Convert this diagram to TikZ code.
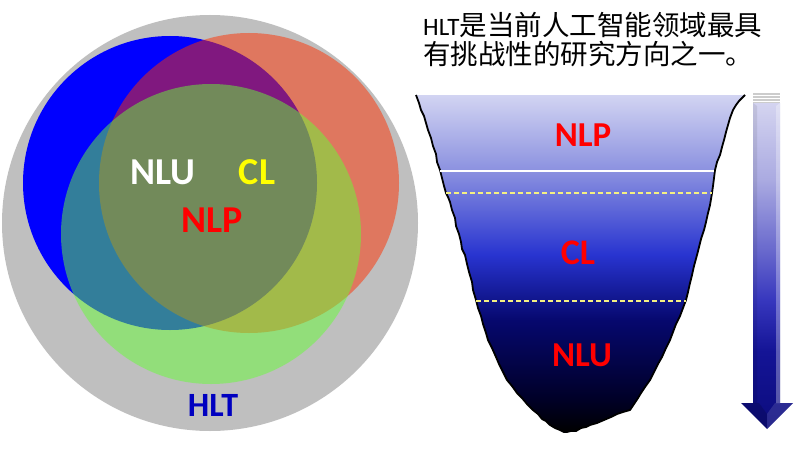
\documentclass[tikz,border=0pt]{standalone}
\usepackage{fontspec}
\setmainfont{Carlito}
\newfontfamily\cjk{Noto Sans CJK SC}
\usetikzlibrary{positioning}
\definecolor{gris}{HTML}{BFBFBF}
\definecolor{azul}{RGB}{0,0,255}
\definecolor{rojizo}{RGB}{255,48,0}
\definecolor{verdoso}{RGB}{102,253,55}
\definecolor{azulhlt}{RGB}{0,0,192}
\definecolor{amarillo}{RGB}{255,255,0}
\definecolor{rojo}{RGB}{255,0,0}
\definecolor{punteado}{RGB}{245,240,130}
% colores del embudo
\definecolor{lavanda}{RGB}{210,212,242}
\definecolor{celeste}{RGB}{140,146,224}
\definecolor{anil}{RGB}{40,52,208}
\definecolor{marino}{RGB}{6,8,110}
\definecolor{noche}{RGB}{0,0,40}
% colores de la flecha
\definecolor{flechaclara}{RGB}{212,212,240}
\definecolor{flechasuave}{RGB}{170,170,225}
\definecolor{flechamedia}{RGB}{105,105,205}
\definecolor{flechaviva}{RGB}{55,55,190}
\definecolor{flechaoscura}{RGB}{20,20,150}
\definecolor{flechafondo}{RGB}{12,12,125}
\pgfdeclareverticalshading{embudo}{100bp}{color(0bp)=(black); color(25bp)=(black);
  color(30bp)=(noche); color(41.6bp)=(marino); color(51.3bp)=(anil);
  color(63.9bp)=(celeste); color(75bp)=(lavanda); color(100bp)=(lavanda)}
\pgfdeclareverticalshading{sombraflecha}{100bp}{color(0bp)=(flechafondo); color(25bp)=(flechafondo);
  color(37bp)=(flechaoscura); color(44.8bp)=(flechaviva); color(52.5bp)=(flechamedia);
  color(63.2bp)=(flechasuave); color(75bp)=(flechaclara); color(100bp)=(flechaclara)}
\newcommand{\contorno}{(416,95) -- (419,103) -- (421,110) -- (424,116) -- (426,123) -- (428,130)
  -- (431,138) -- (433,146) -- (436,154) -- (437,162) -- (440,170) -- (442,178) -- (444,186)
  -- (446,193) -- (448,197) -- (450,202) -- (452,210) -- (455,218) -- (456,226) -- (459,234)
  -- (461,242) -- (462,249) -- (465,255) -- (467,264) -- (469,272) -- (472,282) -- (473,290)
  -- (476,300) -- (478,308) -- (481,316) -- (483,324) -- (486,333) -- (488,340) -- (492,348)
  -- (496,357) -- (499,364) -- (503,372) -- (507,380) -- (512,386) -- (517,393) -- (522,398)
  -- (527,404) -- (533,410) -- (538,414) -- (542,419) -- (546,421) -- (550,425) -- (555,428)
  -- (560,430) -- (564,432) -- (567,432) -- (571,431) -- (576,431) -- (581,428) -- (586,427)
  -- (590,425) -- (597,423) -- (604,420) -- (611,417) -- (617,414) -- (623,412) -- (630,410)
  -- (634,404) -- (638,398) -- (641,393) -- (645,387) -- (650,380) -- (654,372) -- (658,364)
  -- (662,357) -- (666,348) -- (670,340) -- (673,332) -- (676,324) -- (680,316) -- (683,308)
  -- (686,300) -- (688,292) -- (690,283) -- (692,275) -- (694,266) -- (697,255) -- (699,247)
  -- (701,239) -- (704,230) -- (706,222) -- (708,213) -- (710,205) -- (712,193) -- (713,186)
  -- (714,178) -- (715,170) -- (717,162) -- (720,155) -- (722,147) -- (724,140) -- (726,132)
  -- (728,125) -- (730,118) -- (733,110) -- (736,105) -- (739,101) -- (742,98) -- (745,95)}

\begin{document}
\begin{tikzpicture}[x=1pt,y=-1pt,
    etiqueta/.style={font=\fontsize{38}{40}\selectfont\bfseries,inner sep=0pt},
    nivel/.style={font=\fontsize{35}{38}\selectfont\bfseries,inner sep=0pt,text=rojo},
    conjunto/.style={fill opacity=0.5},
    linea/.style={font=\fontsize{27.5}{29}\selectfont,inner sep=0pt,anchor=base west},
    corte/.style={punteado,line width=1.2pt,dash pattern=on 5pt off 3pt}]
  \fill[white] (0,0) rectangle (800,452);
  \useasboundingbox (0,0) rectangle (800,452);

  % diagrama de Venn
  \fill[gris] (210,223) circle[radius=208];
  \fill[azul] (170,183) circle[radius=147];
  \fill[rojizo,conjunto] (249,183) circle[radius=150];
  \fill[verdoso,conjunto] (211,234) circle[radius=150];
  \node[etiqueta,text=white] (nlu) at (163,172) {NLU};
  \node[etiqueta,text=amarillo] (cl) at (257,172) {CL};
  \node[etiqueta,text=rojo] (nlp) at (212,220) {NLP};
  \node[etiqueta,text=azulhlt,font=\fontsize{34}{36}\selectfont\bfseries] (hlt) at (213,405) {HLT};

  % texto
  \node[linea] (linea1) at (423,36) {{\fontsize{25}{29}\selectfont HLT}\cjk 是当前人工智能领域最具};
  \node[linea] (linea2) at (423,65) {\cjk 有挑战性的研究方向之一。};

  % embudo
  \shade[shading=embudo] \contorno -- cycle;
  \draw[black,line width=1.8pt,line join=round] \contorno;
  \draw[white,line width=1.2pt] (440,171) -- (714,171);
  \draw[corte] (446,193) -- (712,193);
  \draw[corte] (476,301) -- (686,301);
  \node[nivel] (embnlp) at (583,135) {NLP};
  \node[nivel,font=\fontsize{36}{38}\selectfont\bfseries] (embcl) at (578,253) {CL};
  \node[nivel] (embnlu) at (582,355) {NLU};

  % flecha
  \shade[shading=sombraflecha] (753,103) -- (780,103) -- (780,403) -- (793,403)
    -- (767,429) -- (741,403) -- (753,403) -- cycle;
  \fill[white,opacity=0.3] (776,106) -- (780,103) -- (780,403) -- (776,403) -- cycle;
  \fill[black,opacity=0.08] (753,103) -- (757,106) -- (757,403) -- (753,403) -- cycle;
  \fill[black,opacity=0.15] (741,403) -- (767,429) -- (767,414) -- (759,403) -- cycle;
  \fill[white,opacity=0.12] (793,403) -- (767,429) -- (767,414) -- (775,403) -- cycle;
  \fill[gris!80] (753,93) rectangle (780,103);
  \foreach \y in {95.5,98.5,101.5}
    \draw[white,line width=0.8pt] (753,\y) -- (780,\y);
\end{tikzpicture}
\end{document}
